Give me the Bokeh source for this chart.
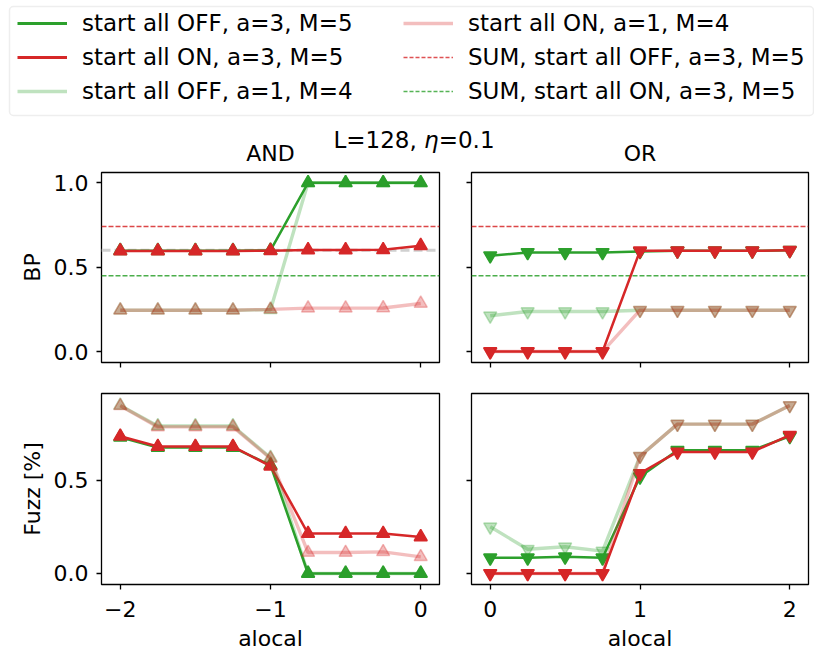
from bokeh.plotting import figure
from bokeh.layouts import column, row
from bokeh.models import (Range1d, FixedTicker, Span, Legend, LegendItem,
                          BoxAnnotation)
from bokeh.core.properties import value
from bokeh.embed import file_html
from bokeh.resources import INLINE

FONT = "DejaVu Sans"
GREEN = "#2ca02c"
RED = "#d62728"

# ---------------- data ----------------
alocal_and = [-2.0, -1.75, -1.5, -1.25, -1.0, -0.75, -0.5, -0.25, 0.0]
alocal_or = [0.0, 0.25, 0.5, 0.75, 1.0, 1.25, 1.5, 1.75, 2.0]

# BP, AND
bp_and_off_a3 = [0.598, 0.598, 0.598, 0.598, 0.600, 1.0, 1.0, 1.0, 1.0]
bp_and_on_a3 = [0.596, 0.596, 0.596, 0.596, 0.598, 0.602, 0.602, 0.603, 0.627]
bp_and_off_a1 = [0.245, 0.245, 0.245, 0.245, 0.248, 1.0, 1.0, 1.0, 1.0]
bp_and_on_a1 = [0.245, 0.245, 0.245, 0.245, 0.250, 0.257, 0.257, 0.258, 0.285]

# BP, OR
bp_or_off_a3 = [0.568, 0.587, 0.587, 0.587, 0.593, 0.597, 0.597, 0.597, 0.600]
bp_or_on_a3 = [0.0, 0.0, 0.0, 0.0, 0.597, 0.597, 0.597, 0.597, 0.600]
bp_or_off_a1 = [0.212, 0.237, 0.237, 0.237, 0.245, 0.245, 0.245, 0.245, 0.245]
bp_or_on_a1 = [0.0, 0.0, 0.0, 0.0, 0.245, 0.245, 0.245, 0.245, 0.245]

# Fuzz, AND
fz_and_off_a3 = [0.730, 0.675, 0.675, 0.675, 0.580, 0.0, 0.0, 0.0, 0.0]
fz_and_on_a3 = [0.735, 0.680, 0.680, 0.680, 0.575, 0.214, 0.214, 0.214, 0.196]
fz_and_off_a1 = [0.900, 0.790, 0.790, 0.790, 0.620, 0.0, 0.0, 0.0, 0.0]
fz_and_on_a1 = [0.898, 0.785, 0.785, 0.785, 0.616, 0.112, 0.112, 0.116, 0.089]

# Fuzz, OR
fz_or_off_a3 = [0.084, 0.084, 0.089, 0.084, 0.518, 0.660, 0.660, 0.660, 0.735]
fz_or_on_a3 = [0.0, 0.0, 0.0, 0.0, 0.536, 0.651, 0.651, 0.651, 0.741]
fz_or_off_a1 = [0.250, 0.130, 0.143, 0.120, 0.628, 0.800, 0.800, 0.800, 0.900]
fz_or_on_a1 = [0.0, 0.0, 0.0, 0.0, 0.628, 0.800, 0.800, 0.800, 0.900]

sum_off_level = 0.741   # SUM, start all OFF, a=3, M=5
sum_on_level = 0.449    # SUM, start all ON, a=3, M=5
gray_ref_level = 0.6

labels = ["start all OFF, a=3, M=5", "start all ON, a=3, M=5",
          "start all OFF, a=1, M=4", "start all ON, a=1, M=4",
          "SUM, start all OFF, a=3, M=5", "SUM, start all ON, a=3, M=5"]

and_ticks = [-2, -1, 0]
and_tick_labels = ["\u22122", "\u22121", "0"]
or_ticks = [0, 1, 2]
or_tick_labels = ["0", "1", "2"]
bp_ticks = [0.0, 0.5, 1.0]
bp_tick_labels = ["0.0", "0.5", "1.0"]
fz_ticks = [0.0, 0.5]
fz_tick_labels = ["0.0", "0.5"]

# series style: (color, alpha, line width)
STYLES = [(GREEN, 1.0, 2.5), (RED, 1.0, 2.5), (GREEN, 0.3, 3.4), (RED, 0.3, 3.4)]


def make_panel(width, height, xr, yr, mb):
    p = figure(width=width, height=height, x_range=Range1d(*xr), y_range=Range1d(*yr),
               output_backend="svg", toolbar_location=None,
               min_border_left=mb[0], min_border_right=mb[1],
               min_border_top=mb[2], min_border_bottom=mb[3])
    p.xgrid.visible = False
    p.ygrid.visible = False
    p.outline_line_color = "black"
    p.outline_line_width = 1.3
    p.outline_line_alpha = 1.0
    p.background_fill_color = "white"
    p.border_fill_color = "white"
    for ax in (p.xaxis[0], p.yaxis[0]):
        ax.axis_line_color = None
        ax.major_tick_in = 0
        ax.major_tick_out = 5
        ax.major_tick_line_width = 1.3
        ax.major_tick_line_color = "black"
        ax.minor_tick_line_color = None
        ax.major_label_text_font = FONT
        ax.major_label_text_font_size = "22px"
        ax.major_label_text_color = "black"
        ax.axis_label_text_font = FONT
        ax.axis_label_text_font_size = "22px"
        ax.axis_label_text_font_style = "normal"
        ax.axis_label_text_color = "black"
    return p


def set_axis(ax, ticks, tick_labels, show_labels, label=None, standoff=8, label_standoff=6):
    ax.ticker = FixedTicker(ticks=ticks)
    if show_labels:
        ax.major_label_overrides = {t: s for t, s in zip(ticks, tick_labels)}
        ax.major_label_standoff = standoff
    else:
        ax.major_label_text_font_size = "0px"
        ax.major_label_standoff = 0
        ax.major_label_overrides = {t: "" for t in ticks}
    if label:
        ax.axis_label = label
        ax.axis_label_standoff = label_standoff


def draw(p, xs, series, marker, hlines, gray=False):
    if gray:
        p.add_layout(Span(location=gray_ref_level, dimension="width", line_color="#d0d0d0",
                          line_width=3, line_dash="9 4", level="underlay"))
    for lvl, col in hlines:
        p.add_layout(Span(location=lvl, dimension="width", line_color=col, line_alpha=0.85,
                          line_width=1.5, line_dash="5 2", level="underlay"))
    for ys, (col, alpha, lw) in zip(series, STYLES):
        p.line(xs, ys, line_color=col, line_alpha=alpha, line_width=lw)
        p.scatter(xs, ys, marker=marker, size=13, fill_color=col, fill_alpha=alpha,
                  line_color=col, line_alpha=alpha, line_width=1.5)


hl = [(sum_off_level, RED), (sum_on_level, GREEN)]

# ---------------- panels ----------------
tl = make_panel(455, 210, (-2.125, 0.125), (-0.065, 1.061), (101, 16, 2, 18))
tr = make_panel(359, 210, (-0.125, 2.125), (-0.065, 1.061), (16, 6, 2, 18))
bl = make_panel(455, 275, (-2.125, 0.125), (-0.059, 0.964), (101, 16, 13, 71))
br = make_panel(359, 275, (-0.125, 2.125), (-0.059, 0.964), (16, 6, 13, 71))

set_axis(tl.xaxis[0], and_ticks, and_tick_labels, False)
set_axis(tl.yaxis[0], bp_ticks, bp_tick_labels, True, "BP", standoff=8)
set_axis(tr.xaxis[0], or_ticks, or_tick_labels, False)
set_axis(tr.yaxis[0], bp_ticks, bp_tick_labels, False)
set_axis(bl.xaxis[0], and_ticks, and_tick_labels, True, "alocal", standoff=11, label_standoff=6)
set_axis(bl.yaxis[0], fz_ticks, fz_tick_labels, True, "Fuzz [%]", standoff=8)
set_axis(br.xaxis[0], or_ticks, or_tick_labels, True, "alocal", standoff=11, label_standoff=6)
set_axis(br.yaxis[0], fz_ticks, fz_tick_labels, False)

draw(tl, alocal_and, [bp_and_off_a3, bp_and_on_a3, bp_and_off_a1, bp_and_on_a1], "triangle", hl, gray=True)
draw(tr, alocal_or, [bp_or_off_a3, bp_or_on_a3, bp_or_off_a1, bp_or_on_a1], "inverted_triangle", hl)
draw(bl, alocal_and, [fz_and_off_a3, fz_and_on_a3, fz_and_off_a1, fz_and_on_a1], "triangle", [])
draw(br, alocal_or, [fz_or_off_a3, fz_or_on_a3, fz_or_off_a1, fz_or_on_a1], "inverted_triangle", [])

# ---------------- header: legend + titles ----------------
HH = 170
hdr = figure(width=814, height=HH, x_range=Range1d(0, 814), y_range=Range1d(HH, 0),
             x_axis_type=None, y_axis_type=None, output_backend="svg", toolbar_location=None,
             min_border=0, outline_line_color=None)
hdr.background_fill_color = "white"
hdr.border_fill_color = "white"

hdr.add_layout(BoxAnnotation(left=9, right=813, top=6, bottom=115, fill_color="white",
                             fill_alpha=1.0, line_color="#c8c8c8", line_width=1.5,
                             border_radius=4, level="underlay"))

leg_styles = [(GREEN, 1.0, 2.8, "solid"), (RED, 1.0, 2.8, "solid"), (GREEN, 0.3, 3.6, "solid"),
              (RED, 0.3, 3.6, "solid"), (RED, 0.8, 1.5, "4 2"), (GREEN, 0.8, 1.5, "4 2")]
# legend slot: column x and row centre (pixels from top)
leg_cols = [17, 17, 17, 403, 403, 403]
leg_rows = [25, 59, 93, 25, 59, 93]

for lab, (col, a, lw, dash), lx, rc in zip(labels, leg_styles, leg_cols, leg_rows):
    # legend-handle renderer, kept off-canvas
    r = hdr.line(x=[-60, -50], y=[-60, -60], line_color=col, line_alpha=a, line_width=lw,
                 line_dash=dash)
    lg = Legend(items=[LegendItem(label=lab, renderers=[r])],
                location=(lx, HH - rc - 15), orientation="vertical",
                glyph_width=50, glyph_height=34, label_height=34, spacing=0,
                label_standoff=15, padding=0, margin=0,
                border_line_color=None, background_fill_alpha=0.0,
                label_text_font=FONT, label_text_font_size="23px",
                label_text_color="black")
    hdr.add_layout(lg, "center")

# suptitle "L=128, η=0.1" (η italic, as in mathtext)
TY = 139
hdr.text(x=[333], y=[TY], text=["L=128, "], text_font=value(FONT), text_font_size="23px",
         text_align="left", text_baseline="alphabetic", text_color="black")
hdr.text(x=[333 + 3.939 * 23], y=[TY], text=["\u03b7"], text_font=value(FONT),
         text_font_size="23px", text_font_style="italic",
         text_align="left", text_baseline="alphabetic", text_color="black")
hdr.text(x=[333 + 4.573 * 23], y=[TY], text=["=0.1"], text_font=value(FONT),
         text_font_size="23px", text_align="left", text_baseline="alphabetic", text_color="black")
# panel titles
hdr.text(x=[270, 639.5], y=[153, 153], text=["AND", "OR"], text_font=value(FONT),
         text_font_size="22px", text_align="center", text_baseline="alphabetic",
         text_color="black")

layout = column(hdr, row(tl, tr), row(bl, br))
open("out.html", "w").write(file_html(layout, INLINE))
